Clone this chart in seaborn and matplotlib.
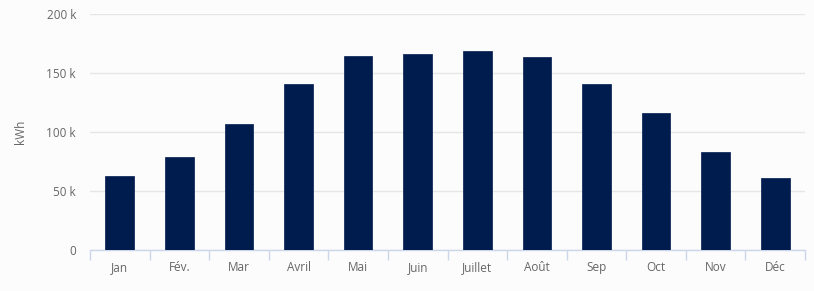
import matplotlib
matplotlib.use("Agg")
import matplotlib.pyplot as plt
import seaborn as sns
import pandas as pd
from matplotlib.ticker import FixedLocator, FuncFormatter

months = ["Jan", "Fév.", "Mar", "Avril", "Mai", "Juin", "Juillet", "Août", "Sep", "Oct", "Nov", "Déc"]
values = [62700, 78800, 106800, 140700, 164400, 166100, 168600, 163600, 140700, 116100, 83100, 61000]
yticks = [0, 50000, 100000, 150000, 200000]

sns.set_theme(style="white")
plt.rcParams["font.family"] = ["Open Sans", "DejaVu Sans"]

df = pd.DataFrame({"month": months, "kWh": values})

fig = plt.figure(figsize=(8.14, 2.91), dpi=100, facecolor="#fcfcfc")
ax = fig.add_axes([90/814, 41/291, 715/814, 236/291])
ax.set_facecolor("#fcfcfc")

sns.barplot(data=df, x="month", y="kWh", color="#001c4e", width=0.48,
            saturation=1, ax=ax, edgecolor="#001c4e", linewidth=0.5, zorder=3)

ax.set_ylim(0, 200000)
ax.set_xlim(-0.5, 11.5)
ax.set_yticks(yticks)
ax.yaxis.set_major_formatter(FuncFormatter(lambda v, p: "0" if v == 0 else f"{int(v/1000)} k"))
ax.grid(axis="y", color="#e6e6e6", linewidth=1, zorder=0)
ax.set_axisbelow(True)
for s in ["top", "right", "left"]:
    ax.spines[s].set_visible(False)
ax.spines["bottom"].set_color("#ccd6eb")
ax.spines["bottom"].set_linewidth(1)

ax.tick_params(axis="y", length=0, labelsize=8.5, colors="#666666", pad=10)
ax.tick_params(axis="x", which="major", length=0, labelsize=8.5, colors="#666666", pad=8)
ax.xaxis.set_minor_locator(FixedLocator([i - 0.5 for i in range(13)]))
ax.tick_params(axis="x", which="minor", bottom=True, length=7, color="#ccd6eb", width=1)

ax.set_xlabel("")
ax.set_ylabel("kWh", fontsize=8.5, color="#666666", labelpad=14)

fig.savefig("out.png", dpi=100, facecolor=fig.get_facecolor())
